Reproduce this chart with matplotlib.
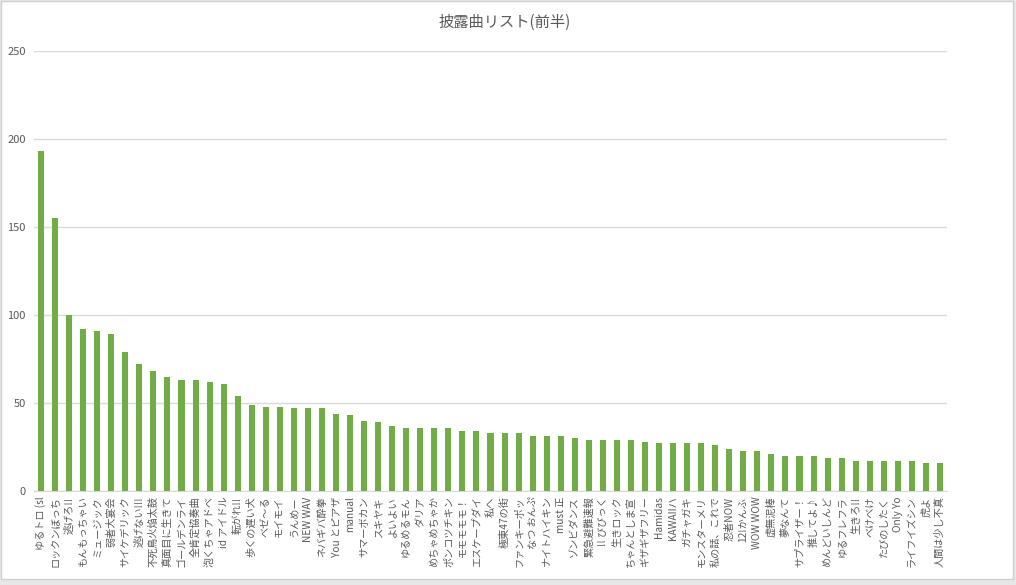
import matplotlib.pyplot as plt
from matplotlib.patches import Rectangle

plt.rcParams['font.family'] = ['Noto Sans CJK JP', 'DejaVu Sans']

# DATA
songs = [
    'ゆるトロ (sl', 'ロックンぼっち', '逃げろ!!', 'もんもっちゃい', 'ミュージック',
    '弱者大宴会', 'サイケデリック', '逃げない!!!', '不死鳥火焔太鼓', '真面目に生きて',
    'ゴールデンライ', '全肯定協奏曲', '泡くちゃアドベ', 'id アイドル', '転がれ!!',
    '歩くの遅い犬', 'べゼ〜る', 'モイモイ', 'うんめー', 'NEW WAV',
    'ネバギバ酔拳', 'You とピアザ', 'manual', 'サマーボカン', 'スキヤキ',
    'よいよい', 'ゆるめるモん', 'ダリア', 'めちゃめちゃか', 'ポンコツチキン',
    'モモモモモ！', 'エスケープダイ', '私へ', '極東47の街', 'ファンキーポッ',
    'なつ おんぷ', 'ナイトハイキン', 'must 正', 'ゾンビダンス', '緊急避難速報',
    '!! びびっく', '生きロック', 'ちゃんとしま宣', 'ギザギザフリー', 'Hamidas',
    'KAWAIIハ', 'ガチャガキ', 'モンスターメリ', '私の話、これで', '忍者NOW',
    '12!かんふ', 'WOW WOW', '虚無泥棒', '夢なんて', 'サプライザー！',
    '推してよ♪', 'めんどいしんど', 'ゆるフレフラ', '生きろ!!', 'べけべけ',
    'たびのしたく', 'Only Yo', 'ライフイズシン', '虎よ', '人間は少し不真',
]
counts = [
    193, 155, 100, 92, 91, 89, 79, 72, 68, 65,
    63, 63, 62, 61, 54, 49, 48, 48, 47, 47,
    47, 44, 43, 40, 39, 37, 36, 36, 36, 36,
    34, 34, 33, 33, 33, 31, 31, 31, 30, 29,
    29, 29, 29, 28, 27, 27, 27, 27, 26, 24,
    23, 23, 21, 20, 20, 20, 19, 19, 17, 17,
    17, 17, 17, 16, 16,
]
yticks = [0, 50, 100, 150, 200, 250]

W, H = 1016, 585
fig = plt.figure(figsize=(W / 100, H / 100), dpi=100)
fig.patch.set_facecolor('#e7e7e7')
fig.patches.append(Rectangle((1 / W, (H - 579) / H), 1012 / W, 578 / H,
                             transform=fig.transFigure, facecolor='white',
                             edgecolor='#d0d0d0', lw=1, zorder=-1))

ax = fig.add_axes([34 / W, (H - 491) / H, 913 / W, 440 / H])
ax.set_facecolor('none')

x = list(range(len(songs)))
ax.bar(x, counts, width=0.43, color='#70ad47', zorder=3)

ax.set_xlim(-0.5, len(songs) - 0.5)
ax.set_ylim(0, 250)
ax.set_yticks(yticks)
ax.yaxis.grid(True, color='#d9d9d9', lw=1)
ax.set_axisbelow(True)
for s in ['top', 'right', 'left']:
    ax.spines[s].set_visible(False)
ax.spines['bottom'].set_color('#d9d9d9')

ax.set_xticks(x)
ax.set_xticklabels(songs, rotation=90, fontsize=7.3, color='#595959')
ax.tick_params(axis='x', length=0, pad=4)
ax.tick_params(axis='y', length=0, pad=6, labelsize=8, labelcolor='#595959')

fig.text(505 / W, 1 - 22 / H, '披露曲リスト(前半)', ha='center', va='center',
         fontsize=11, color='#595959')

fig.savefig('out.png', dpi=100, facecolor=fig.get_facecolor())
